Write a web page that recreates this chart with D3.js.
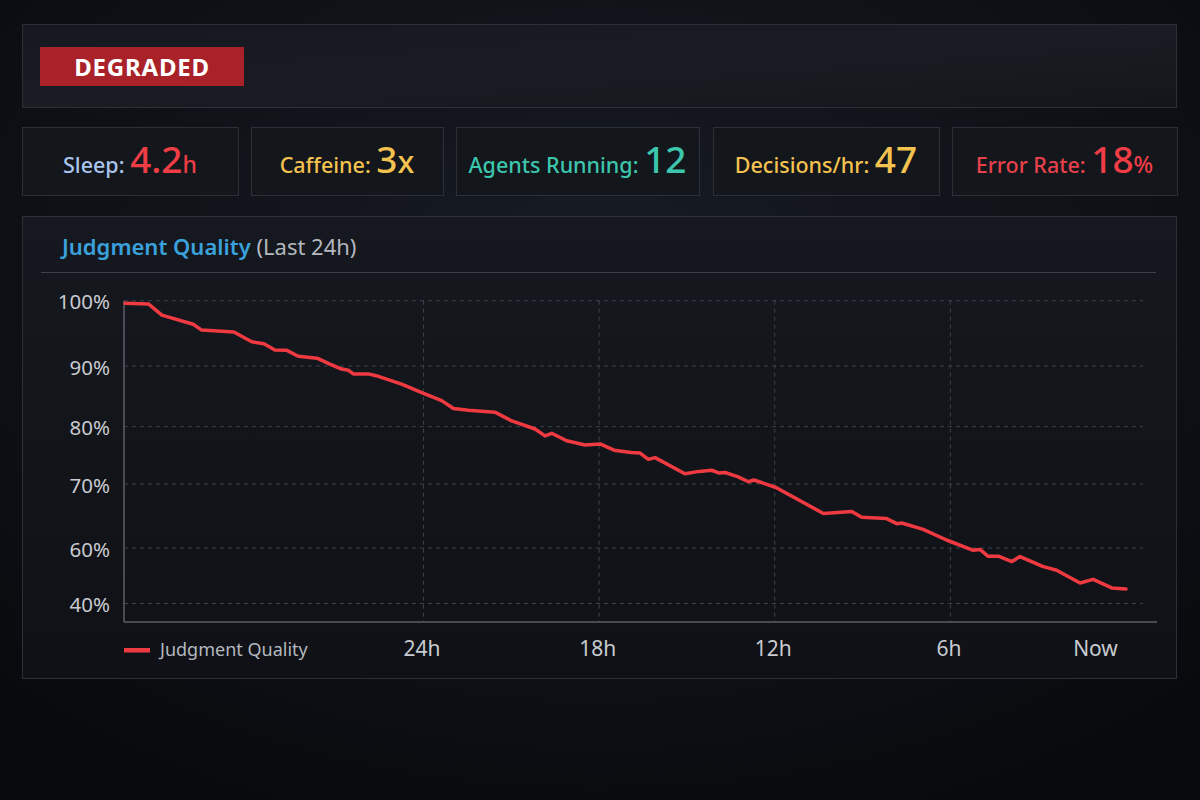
<!DOCTYPE html>
<html>
<head>
<meta charset="utf-8">
<script src="https://cdn.jsdelivr.net/npm/d3@7/dist/d3.min.js"></script>
<style>
  html, body { margin: 0; padding: 0; background: #0b0e13; }
  svg { display: block; }
  text { font-family: "Noto Sans", "Open Sans", sans-serif; }
</style>
</head>
<body>
<svg id="chart" width="1200" height="800"></svg>
<script>
// ---------- DATA ----------
const statusLabel = "DEGRADED";

const statLabels = ["Sleep:", "Caffeine:", "Agents Running:", "Decisions/hr:", "Error Rate:"];
const statValues = ["4.2", "3", "12", "47", "18"];
const statUnits  = ["h", "x", "", "", "%"];

const chartTitle = "Judgment Quality";
const chartSubtitle = "(Last 24h)";
const seriesName = "Judgment Quality";

// hours ago (x) and judgment quality in % (y)
const hoursAgo = [34.2, 33.4, 32.94, 31.87, 31.58, 30.48, 29.87, 29.45, 29.08, 28.67,
  28.28, 27.64, 27.2, 26.8, 26.57, 26.4, 25.89, 25.62, 24.75, 24.06,
  23.38, 22.98, 22.47, 21.56, 21.01, 20.19, 19.85, 19.62, 19.11, 18.48,
  17.97, 17.49, 16.91, 16.6, 16.32, 16.09, 15.07, 14.59, 14.15, 13.9,
  13.7, 13.27, 12.9, 12.71, 11.96, 10.34, 9.37, 9.03, 8.18, 7.83,
  7.66, 6.93, 6.13, 5.24, 4.99, 4.71, 4.34, 3.9, 3.62, 2.85,
  2.37, 1.57, 1.12, 0.49, 0];
const quality = [99.6, 99.5, 97.8, 96.4, 95.5, 95.2, 93.7, 93.4, 92.45, 92.4,
  91.5, 91.2, 90.3, 89.5, 89.3, 88.7, 88.7, 88.4, 87.0, 85.6,
  84.3, 83.0, 82.7, 82.4, 81.0, 79.6, 78.4, 78.85, 77.55, 76.8,
  77.0, 75.9, 75.5, 75.4, 74.3, 74.6, 71.8, 72.2, 72.4, 71.9,
  72.0, 71.3, 70.4, 70.7, 69.45, 65.4, 65.7, 64.8, 64.6, 63.8,
  63.9, 62.9, 61.25, 59.2, 59.5, 57.0, 57.0, 55.1, 56.9, 53.4,
  52.0, 47.4, 48.7, 45.6, 45.2];

const yTicks = [100, 90, 80, 70, 60, 40];
const yTickLabels = ["100%", "90%", "80%", "70%", "60%", "40%"];
const xTicks = [24, 18, 12, 6, 0];
const xTickLabels = ["24h", "18h", "12h", "6h", "Now"];

// ---------- STYLE / LAYOUT ----------
const C = {
  panel: "#14171d", border: "#2b2f37", red: "#ef3d46", yellow: "#f3c24f",
  teal: "#3cc6ad", blue: "#a9c5ec", title: "#3ba1dc", grey: "#b4b8bf",
  axis: "#c8cbd0", grid: "#3e434c", badge: "#a9222a", line: "#f03a42"
};
const statLabelColors = [C.blue, C.yellow, C.teal, C.yellow, "#e8414b"];
const statValueColors = [C.red, C.yellow, C.teal, C.yellow, C.red];

const svg = d3.select("#chart");
const defs = svg.append("defs");

const bg = defs.append("radialGradient").attr("id", "bg")
  .attr("cx", "50%").attr("cy", "35%").attr("r", "75%");
bg.append("stop").attr("offset", "0%").attr("stop-color", "#181c24");
bg.append("stop").attr("offset", "100%").attr("stop-color", "#07090c");

const pg = defs.append("linearGradient").attr("id", "panel")
  .attr("x1", "0").attr("y1", "0").attr("x2", "1").attr("y2", "1");
pg.append("stop").attr("offset", "0%").attr("stop-color", "#15181e");
pg.append("stop").attr("offset", "50%").attr("stop-color", "#191c23");
pg.append("stop").attr("offset", "100%").attr("stop-color", "#131619");

const cg = defs.append("linearGradient").attr("id", "chartbg")
  .attr("x1", "0").attr("y1", "0").attr("x2", "0").attr("y2", "1");
cg.append("stop").attr("offset", "0%").attr("stop-color", "#15181e");
cg.append("stop").attr("offset", "100%").attr("stop-color", "#0f1116");

svg.append("rect").attr("width", 1200).attr("height", 800).attr("fill", "url(#bg)");

// top status panel
svg.append("rect").attr("x", 22.5).attr("y", 24.5).attr("width", 1154).attr("height", 83)
  .attr("fill", "url(#panel)").attr("stroke", C.border);
svg.append("rect").attr("x", 40).attr("y", 47).attr("width", 204).attr("height", 39)
  .attr("fill", C.badge);
svg.append("text").attr("x", 142).attr("y", 67).attr("dy", "0.36em")
  .attr("text-anchor", "middle").attr("fill", "#ffffff")
  .attr("font-size", 24).attr("font-weight", 700).attr("letter-spacing", "0.8")
  .text(statusLabel);

// stat boxes
const boxX = [22, 251, 456, 713, 952];
const boxW = [216, 192, 243, 226, 225];
statLabels.forEach((lab, i) => {
  svg.append("rect").attr("x", boxX[i] + 0.5).attr("y", 127.5)
    .attr("width", boxW[i]).attr("height", 68)
    .attr("fill", "#13161b").attr("stroke", C.border);
  const t = svg.append("text").attr("x", boxX[i] + boxW[i] / 2).attr("y", 173)
    .attr("text-anchor", "middle");
  t.append("tspan").attr("fill", statLabelColors[i]).attr("font-size", 21.5)
    .attr("font-weight", 500).text(lab + " ");
  t.append("tspan").attr("fill", statValueColors[i]).attr("font-size", 37)
    .attr("font-weight", 500).text(statValues[i]);
  if (statUnits[i]) {
    t.append("tspan").attr("fill", statValueColors[i])
      .attr("font-size", statUnits[i] === "x" ? 31 : 23).attr("font-weight", 500)
      .text(statUnits[i]);
  }
});

// chart panel
svg.append("rect").attr("x", 22.5).attr("y", 216.5).attr("width", 1154).attr("height", 462)
  .attr("fill", "url(#chartbg)").attr("stroke", C.border);
const tt = svg.append("text").attr("x", 62).attr("y", 255);
tt.append("tspan").attr("fill", C.title).attr("font-size", 22).attr("font-weight", 600).text(chartTitle + " ");
tt.append("tspan").attr("fill", C.grey).attr("font-size", 22).text(chartSubtitle);
svg.append("line").attr("x1", 41).attr("x2", 1156).attr("y1", 272.5).attr("y2", 272.5)
  .attr("stroke", "#3d414a").attr("stroke-width", 1.2);

// plot area
const plot = { left: 124, right: 1126, top: 300.7, bottom: 622, gridRight: 1143, axisRight: 1157 };
const x = d3.scaleLinear().domain([d3.max(hoursAgo), 0]).range([plot.left + 1, plot.right]);
// the reference's value axis is not evenly spaced; piecewise scale matches its tick positions
const yStops = [603.5, 548, 484, 426.7, 366, 300.7];
const y = d3.scaleLinear().domain([40, 60, 70, 80, 90, 100]).range(yStops);

// horizontal gridlines
svg.append("g").selectAll("line").data(yTicks).join("line")
  .attr("x1", plot.left).attr("x2", plot.gridRight)
  .attr("y1", d => y(d)).attr("y2", d => y(d))
  .attr("stroke", C.grid).attr("stroke-width", 1).attr("stroke-dasharray", "4,4");
// vertical gridlines
svg.append("g").selectAll("line").data(xTicks.filter(d => d > 0)).join("line")
  .attr("x1", d => x(d)).attr("x2", d => x(d))
  .attr("y1", plot.top).attr("y2", plot.bottom)
  .attr("stroke", C.grid).attr("stroke-width", 1).attr("stroke-dasharray", "4,4");

// axes lines
svg.append("line").attr("x1", plot.left).attr("x2", plot.left)
  .attr("y1", plot.top).attr("y2", plot.bottom).attr("stroke", "#5a5f68").attr("stroke-width", 1.5);
svg.append("line").attr("x1", plot.left).attr("x2", plot.axisRight)
  .attr("y1", plot.bottom).attr("y2", plot.bottom).attr("stroke", "#5a5f68").attr("stroke-width", 1.5);

// y axis labels
const yAxis = d3.axisLeft(y).tickValues(yTicks).tickFormat((d, i) => yTickLabels[i])
  .tickSize(0).tickPadding(14);
const gy = svg.append("g").attr("transform", `translate(${plot.left},0)`).call(yAxis);
gy.select(".domain").remove();
gy.selectAll("text").attr("fill", C.axis).attr("font-size", 20.5)
  .attr("font-family", "Noto Sans, sans-serif").attr("dy", "0.4em");

// x axis labels
const xAxis = d3.axisBottom(x).tickValues(xTicks).tickFormat((d, i) => xTickLabels[i])
  .tickSize(0).tickPadding(19);
const gx = svg.append("g").attr("transform", `translate(0,${plot.bottom})`).call(xAxis);
gx.select(".domain").remove();
gx.selectAll("text").attr("fill", C.axis).attr("font-size", 21)
  .attr("font-family", "Noto Sans, sans-serif")
  .attr("dx", d => d === 0 ? -31 : -2);

// line
const line = d3.line().x((d, i) => x(hoursAgo[i])).y(d => y(d));
svg.append("path").datum(quality).attr("d", line)
  .attr("fill", "none").attr("stroke", C.line).attr("stroke-width", 3.5)
  .attr("stroke-linejoin", "round").attr("stroke-linecap", "round");

// legend
svg.append("rect").attr("x", 124).attr("y", 648).attr("width", 26).attr("height", 4.5)
  .attr("fill", C.line);
svg.append("text").attr("x", 160).attr("y", 650).attr("dy", "0.36em")
  .attr("fill", C.grey).attr("font-size", 18).text(seriesName);
</script>
</body>
</html>
